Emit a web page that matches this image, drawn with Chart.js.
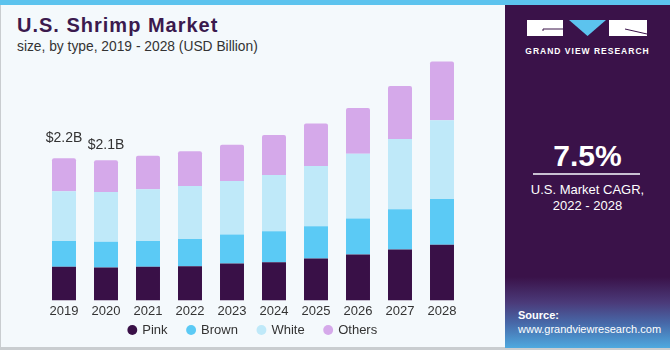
<!DOCTYPE html>
<html><head><meta charset="utf-8">
<script src="https://cdn.jsdelivr.net/npm/chart.js@4"></script>
<style>
html,body{margin:0;padding:0;}
body{width:670px;height:350px;position:relative;overflow:hidden;background:#f4f9fc;font-family:"Liberation Sans",Arial,sans-serif;}
#topbar{position:absolute;left:0;top:0;width:670px;height:5px;background:#5cc3ee;}
#lline{position:absolute;left:0;top:5px;width:1px;height:345px;background:#c9cdd0;}
#bline{position:absolute;left:0;top:347px;width:670px;height:3px;background:#c9cdd0;}
#title{position:absolute;left:17px;top:14px;font-size:20px;font-weight:bold;color:#3b1a4e;letter-spacing:1px;white-space:nowrap;}
#sub{position:absolute;left:17px;top:39px;font-size:13.8px;color:#333;white-space:nowrap;}
#panel{position:absolute;left:505px;top:5px;width:165px;height:343px;background:linear-gradient(to bottom,#3a1249 0px,#3a1249 272px,#4b3b7a 298px,#4768a8 318px,#4ea9df 343px);}
#logo{position:absolute;left:22px;top:15px;}
#gvr{position:absolute;left:0;width:165px;top:41px;text-align:center;color:#fff;font-size:8.5px;font-weight:bold;letter-spacing:1px;}
#cagr{position:absolute;left:0;width:165px;top:134px;text-align:center;color:#fff;font-size:30px;font-weight:bold;}
#cline{position:absolute;left:28px;width:107px;top:168px;height:1.5px;background:#c9c1d2;}
#cagrt{position:absolute;left:0;width:165px;top:177px;text-align:center;color:#fff;font-size:13px;line-height:16px;}
#src{position:absolute;left:13px;top:304px;color:#fff;font-size:11px;line-height:13.5px;}
#c{position:absolute;left:0;top:0;}
</style></head><body>
<div id="topbar"></div>
<div id="lline"></div>
<div id="bline"></div>
<div id="title">U.S. Shrimp Market</div>
<div id="sub">size, by type, 2019 - 2028 (USD Billion)</div>
<div id="panel">
  <svg id="logo" width="122" height="17" viewBox="0 0 122 17">
    <rect x="0" y="0" width="36" height="16" fill="#fff"/>
    <polyline points="16,11 16,9 36,9" fill="none" stroke="#3a1249" stroke-width="1"/>
    <polygon points="42,0 79,0 60.5,16" fill="#5cc3ee"/>
    <rect x="82" y="0" width="38" height="16" fill="#fff"/>
    <polyline points="98,9 120,14" fill="none" stroke="#3a1249" stroke-width="1"/>
  </svg>
  <div id="gvr">GRAND VIEW RESEARCH</div>
  <div id="cagr">7.5%</div>
  <div id="cline"></div>
  <div id="cagrt">U.S. Market CAGR,<br>2022 - 2028</div>
  <div id="src"><b>Source:</b><br>www.grandviewresearch.com</div>
</div>
<canvas id="c" width="670" height="350"></canvas>
<script>
const years = ['2019','2020','2021','2022','2023','2024','2025','2026','2027','2028'];
const pink   = [0.52,0.51,0.52,0.53,0.57,0.59,0.65,0.71,0.79,0.86];
const brown  = [0.40,0.40,0.40,0.42,0.45,0.48,0.50,0.56,0.62,0.71];
const white  = [0.77,0.77,0.80,0.82,0.83,0.87,0.93,1.00,1.09,1.22];
const others = [0.51,0.49,0.52,0.54,0.56,0.62,0.66,0.71,0.82,0.91];
const seriesNames = ['Pink','Brown','White','Others'];
const totalLabels = ['$2.2B','$2.1B'];
const totalLabelOffsets = [20, 15];

const colors = ['#391047','#5bcaf5','#bfe9f9','#d5a9ea'];
const series = [pink, brown, white, others];

const labelPlugin = {
  id:'totals',
  afterDatasetsDraw(chart){
    const ctx = chart.ctx;
    const meta = chart.getDatasetMeta(series.length-1);
    ctx.save();
    ctx.font = '14px "Liberation Sans", Arial, sans-serif';
    ctx.fillStyle = '#333';
    ctx.textAlign = 'center';
    ctx.textBaseline = 'middle';
    totalLabels.forEach((t,i)=>{
      const el = meta.data[i];
      ctx.fillText(t, el.x, el.y - totalLabelOffsets[i]);
    });
    ctx.restore();
  }
};
const legendShift = {
  id:'legendShift',
  afterLayout(chart){
    const lg = chart.legend;
    const d = 303.5 - lg.top;
    lg.top += d; lg.bottom += d;
  }
};

new Chart(document.getElementById('c'), {
  type:'bar',
  data:{
    labels: years,
    datasets: series.map((s,i)=>({
      label: seriesNames[i],
      data: s,
      backgroundColor: colors[i],
      borderWidth: 0,
      borderRadius: i===series.length-1 ? {topLeft:2, topRight:2, bottomLeft:0, bottomRight:0} : 0,
      borderSkipped: false,
      categoryPercentage: 1,
      barPercentage: 0.571
    }))
  },
  options:{
    responsive:false,
    devicePixelRatio:1,
    animation:false,
    layout:{padding:{left:43,right:207,top:55,bottom:-15}},
    scales:{
      x:{stacked:true, grid:{display:false, drawTicks:false}, border:{display:false},
         ticks:{padding:3, color:'#333', font:{family:'"Liberation Sans", Arial, sans-serif', size:13}}},
      y:{stacked:true, display:false, min:0, max:3.8}
    },
    plugins:{
      legend:{position:'bottom', labels:{usePointStyle:true, pointStyle:'circle', boxWidth:7, boxHeight:7, padding:20, color:'#333', font:{family:'"Liberation Sans", Arial, sans-serif', size:13}}},
      tooltip:{enabled:false}
    }
  },
  plugins:[labelPlugin, legendShift]
});
</script>
</body></html>
